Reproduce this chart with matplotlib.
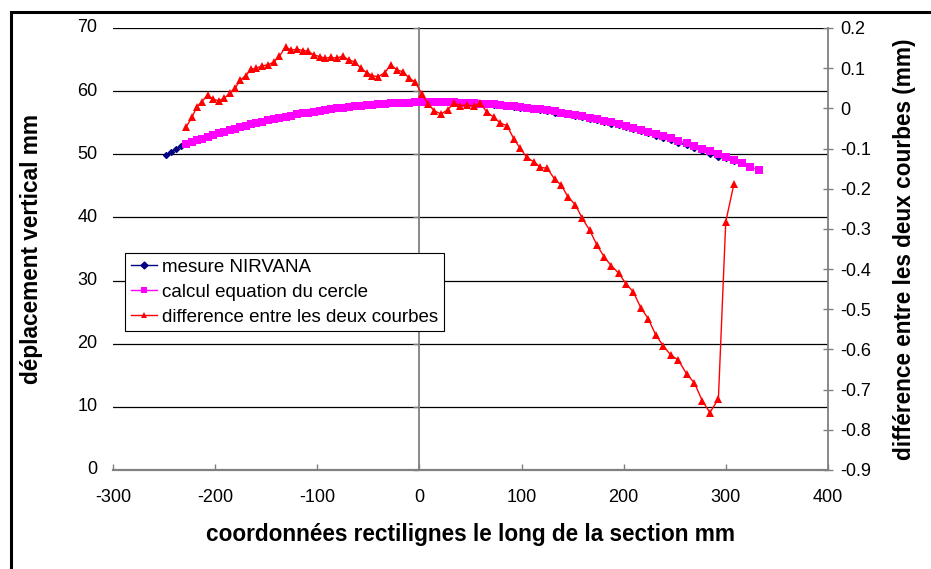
import matplotlib
matplotlib.use("Agg")
import matplotlib.pyplot as plt
from matplotlib.lines import Line2D
from matplotlib.patches import Rectangle
from matplotlib.ticker import FuncFormatter

plt.rcParams["font.family"] = ["Liberation Sans", "DejaVu Sans"]
plt.rcParams["axes.unicode_minus"] = False

NAVY = "#000080"
MAGENTA = "#FF00FF"
RED = "#FF0000"
GRID = "#000000"
AXGREY = "#808080"

# --- data ------------------------------------------------------------------
# abscissa of the circle / difference points (mm)
x_pts = [-228.3, -222.7, -217.8, -212.9, -207.4, -202.1, -196.6, -191.0, -185.8,
         -180.5, -175.3, -170.1, -164.8, -159.6, -154.0, -148.5, -142.6, -137.0,
         -131.1, -125.6, -119.7, -114.2, -108.9, -103.4, -97.8, -92.6, -87.0,
         -81.1, -74.9, -69.0, -63.4, -57.5, -51.6, -46.0, -40.1, -33.9, -28.0,
         -21.5, -15.9, -10.0, -4.2, 2.5, 8.6, 14.5, 21.0, 27.6, 33.5, 39.9, 46.5,
         53.1, 59.6, 66.2, 72.8, 79.3, 85.8, 92.4, 98.6, 105.1, 112.0, 118.5,
         125.1, 132.3, 138.8, 145.4, 152.6, 159.5, 166.6, 173.8, 180.7, 187.9,
         195.1, 202.6, 209.2, 216.7, 223.9, 231.4, 238.7, 246.1, 253.4, 261.6,
         269.1, 277.0, 284.4, 292.7, 299.9, 308.0]

# mesure NIRVANA (starts a little earlier than the circle)
x_nirvana = [-248.0, -243.5, -238.0, -233.0] + x_pts
y_nirvana = [49.90, 50.35, 50.80, 51.25,
             51.62, 51.95, 52.24, 52.52, 52.82, 53.08, 53.35, 53.63, 53.89,
             54.13, 54.38, 54.61, 54.85, 55.06, 55.28, 55.50, 55.71, 55.91,
             56.12, 56.28, 56.46, 56.60, 56.75, 56.88, 57.02, 57.14, 57.27,
             57.39, 57.52, 57.62, 57.71, 57.79, 57.87, 57.93, 58.01, 58.08, 58.16,
             58.21, 58.24, 58.26, 58.28, 58.27, 58.26, 58.24, 58.24, 58.23, 58.22,
             58.19, 58.15, 58.10, 58.05, 57.96, 57.87, 57.77, 57.67, 57.53, 57.40,
             57.26, 57.11, 56.95, 56.80, 56.60, 56.51, 56.32, 56.10, 55.88, 55.64,
             55.38, 55.13, 54.85, 54.58, 54.26, 53.98, 53.65, 53.32, 52.96, 52.60,
             52.23, 51.86, 51.41, 51.00, 50.55, 50.10, 49.64, 49.42, 48.97]

# calcul equation du cercle (runs a little further right)
x_cercle = x_pts + [316.0, 324.0, 332.0]
y_cercle = [51.67, 51.97, 52.24, 52.50, 52.79, 53.06, 53.33, 53.60, 53.85,
            54.08, 54.31, 54.53, 54.75, 54.96, 55.17, 55.39, 55.59, 55.78,
            55.97, 56.13, 56.31, 56.46, 56.61, 56.75, 56.89, 57.01, 57.14,
            57.26, 57.39, 57.50, 57.59, 57.69, 57.78, 57.85, 57.93, 57.99, 58.05,
            58.11, 58.15, 58.18, 58.21, 58.23, 58.25, 58.25, 58.25, 58.23, 58.21,
            58.18, 58.14, 58.09, 58.04, 57.97, 57.89, 57.81, 57.71, 57.61, 57.50,
            57.38, 57.24, 57.10, 56.95, 56.78, 56.61, 56.43, 56.22, 56.02, 55.79,
            55.55, 55.31, 55.05, 54.78, 54.48, 54.21, 53.90, 53.58, 53.24, 52.90,
            52.54, 52.17, 51.74, 51.34, 50.91, 50.48, 50.00, 49.56, 49.06,
            48.56, 48.03, 47.50]

# difference entre les deux courbes (mm, right axis)
diff = [-0.046, -0.022, 0.004, 0.017, 0.033, 0.023, 0.019, 0.025, 0.037, 0.050,
        0.071, 0.081, 0.097, 0.100, 0.106, 0.108, 0.115, 0.130, 0.153, 0.145,
        0.147, 0.144, 0.142, 0.133, 0.129, 0.125, 0.127, 0.125, 0.130, 0.120,
        0.116, 0.100, 0.089, 0.081, 0.079, 0.089, 0.108, 0.095, 0.091, 0.075,
        0.066, 0.035, 0.011, -0.006, -0.014, -0.004, 0.013, 0.007, 0.008, 0.006,
        0.013, -0.010, -0.022, -0.037, -0.043, -0.076, -0.099, -0.122, -0.133,
        -0.147, -0.149, -0.176, -0.191, -0.220, -0.240, -0.274, -0.303, -0.340,
        -0.369, -0.392, -0.410, -0.438, -0.456, -0.496, -0.523, -0.564, -0.591,
        -0.614, -0.626, -0.661, -0.683, -0.728, -0.757, -0.723, -0.282, -0.187]

x_ticks = [-300, -200, -100, 0, 100, 200, 300, 400]
y_left_ticks = [0, 10, 20, 30, 40, 50, 60, 70]
y_right_ticks = [-0.9, -0.8, -0.7, -0.6, -0.5, -0.4, -0.3, -0.2, -0.1, 0.0, 0.1, 0.2]

labels = ["mesure NIRVANA", "calcul equation du cercle",
          "difference entre les deux courbes"]

TICK_FS = 13
LEG_FS = 13.5
LAB_FS = 16.3

# --- figure ------------------------------------------------------------------
W, H = 931, 569
fig = plt.figure(figsize=(W / 100, H / 100), dpi=100)
fig.patch.set_facecolor("white")

# outer frame (cut by the picture edge on the right and bottom)
fig.patches.append(Rectangle((11 / W, -0.2), 1.5, 1.2 - 12 / H,
                             transform=fig.transFigure, fill=False,
                             edgecolor="black", linewidth=2.2))

ax = fig.add_axes([113 / W, 1 - 470 / H, 715 / W, 442 / H])
ax.set_xlim(-300, 400)
ax.set_ylim(0, 70)
ax.set_xticks(x_ticks)
ax.set_yticks(y_left_ticks)
ax.yaxis.grid(True, color=GRID, linewidth=0.9)
ax.set_axisbelow(True)

for s in ("top", "right"):
    ax.spines[s].set_visible(False)
ax.spines["bottom"].set_color(AXGREY)
ax.spines["bottom"].set_linewidth(1.6)
# value axis crosses at x = 0, its labels stay at the left edge
ax.spines["left"].set_position(("data", 0))
ax.spines["left"].set_color(AXGREY)
ax.spines["left"].set_linewidth(1.3)
ax.tick_params(axis="y", labelleft=False, direction="out", length=4,
               color=AXGREY, width=1)
ax.tick_params(axis="x", direction="in", length=4, color=AXGREY, width=1,
               labelsize=TICK_FS, pad=14)
for v in y_left_ticks:
    ax.text(-0.022, v, str(v), transform=ax.get_yaxis_transform(),
            ha="right", va="center", fontsize=TICK_FS)

ax.plot(x_nirvana, y_nirvana, color=NAVY, marker="D", markersize=3,
        linewidth=1, zorder=3)
ax.plot(x_cercle, y_cercle, color=MAGENTA, marker="s", markersize=5.5,
        markeredgewidth=0, linewidth=1, zorder=4)

ax2 = ax.twinx()
ax2.set_ylim(-0.9, 0.2)
ax2.set_yticks(y_right_ticks)
ax2.yaxis.set_major_formatter(
    FuncFormatter(lambda v, p: "0" if abs(v) < 1e-9 else f"{v:.1f}"))
for s in ("top", "left", "bottom"):
    ax2.spines[s].set_visible(False)
ax2.spines["right"].set_color(AXGREY)
ax2.spines["right"].set_linewidth(1.3)
ax2.tick_params(axis="y", direction="inout", length=7, color=AXGREY, width=1,
                labelsize=TICK_FS, pad=5)
ax2.plot(x_pts, diff, color=RED, marker="^", markersize=6,
         markeredgewidth=0, linewidth=1, zorder=3)

ax.set_xlabel("coordonnées rectilignes le long de la section mm",
              fontsize=LAB_FS, fontweight="bold", labelpad=12)
fig.text(32 / W, 1 - 249 / H, "déplacement vertical mm", rotation=90,
         ha="center", va="center", fontsize=LAB_FS, fontweight="bold")
fig.text(904 / W, 1 - 249 / H, "différence entre les deux courbes (mm)",
         rotation=90, ha="center", va="center", fontsize=LAB_FS,
         fontweight="bold")

handles = [
    Line2D([], [], color=NAVY, marker="D", markersize=3.5, linewidth=1),
    Line2D([], [], color=MAGENTA, marker="s", markersize=4.5, markeredgewidth=0,
           linewidth=1),
    Line2D([], [], color=RED, marker="^", markersize=4.5, markeredgewidth=0,
           linewidth=1),
]
leg = ax2.legend(handles, labels, loc="upper left",
                 bbox_to_anchor=(12 / 715, (470 - 253) / 442),
                 fontsize=LEG_FS, frameon=True, fancybox=False, framealpha=1,
                 edgecolor="black", borderpad=0.3, labelspacing=0.42,
                 handlelength=1.4, handletextpad=0.3, borderaxespad=0)
leg.get_frame().set_linewidth(0.8)

fig.savefig("out.png", dpi=100, facecolor="white")
